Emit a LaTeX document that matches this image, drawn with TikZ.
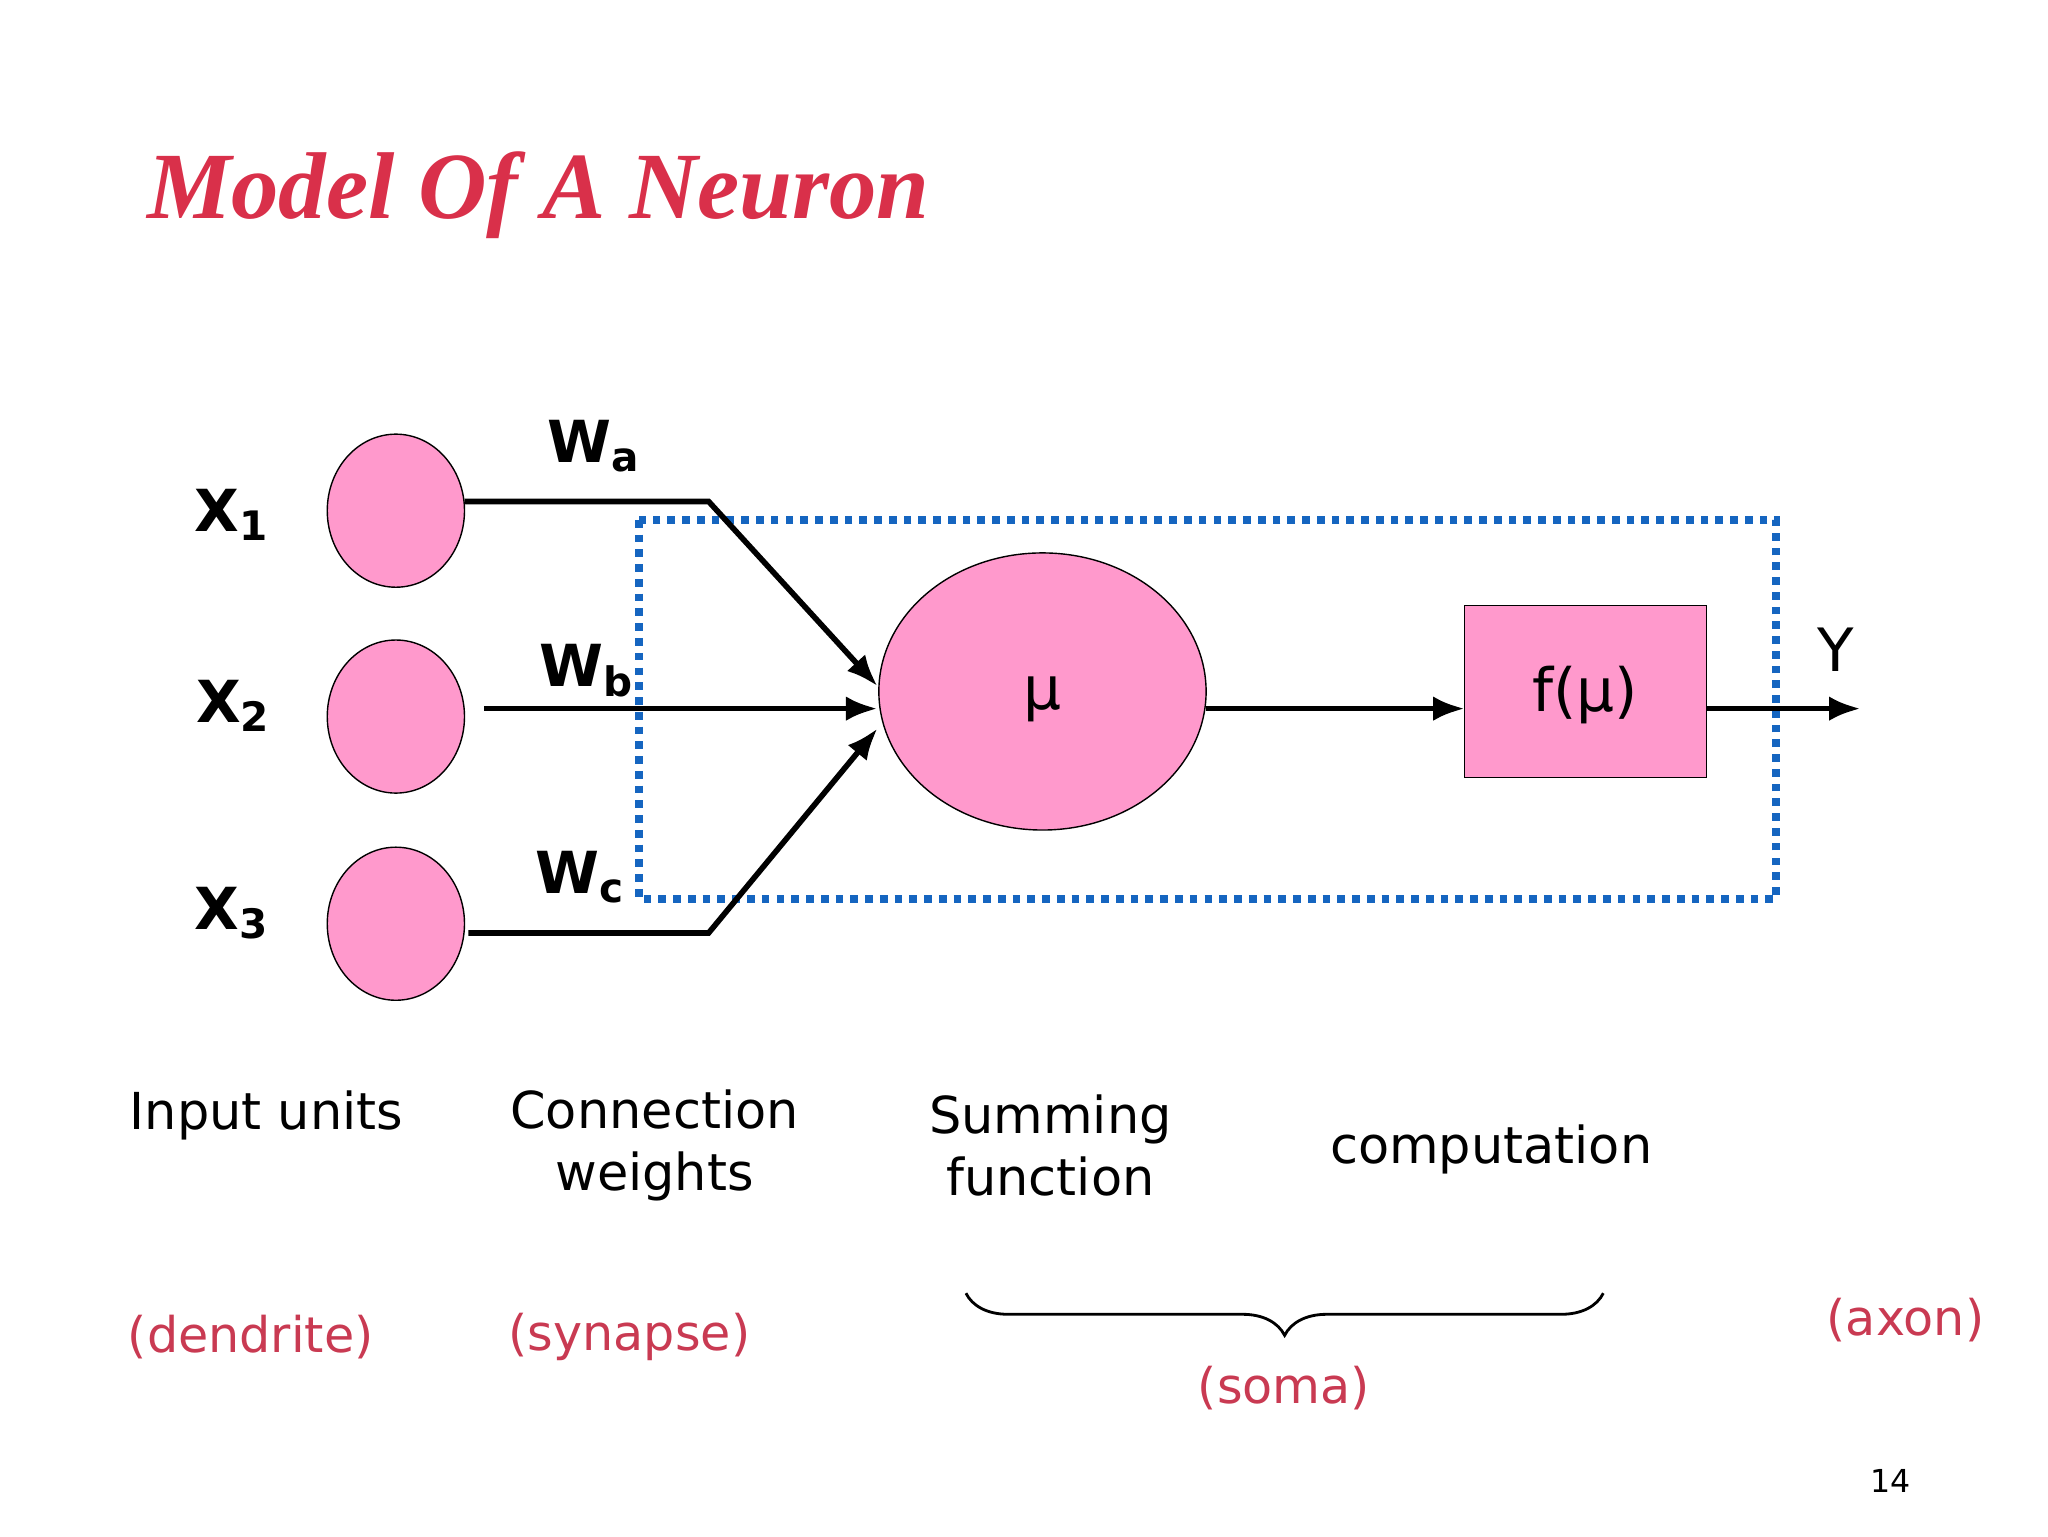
\documentclass[tikz,border=0pt]{standalone}
\usepackage{fontspec}
\setmainfont{DejaVu Sans}
\newfontfamily\titlefont{Liberation Serif}
\usetikzlibrary{arrows.meta, decorations.pathreplacing}
\definecolor{pinkfill}{HTML}{FF99CC}
\definecolor{titlered}{HTML}{D9304A}
\definecolor{labred}{HTML}{C93A52}
\definecolor{boxblue}{HTML}{1565C0}
\begin{document}
\begin{tikzpicture}[x=0.013196cm, y=-0.013196cm,
    wire/.style={line width=1.6pt},
    arr/.style={wire, -{Latex[length=9pt,width=7pt]}},
    lbl/.style={font=\fontsize{14.5}{17.5}\selectfont, align=center},
    red/.style={font=\fontsize{14}{17}\selectfont, text=labred},
    var/.style={font=\fontsize{16.5}{20}\selectfont\bfseries}
  ]
  \useasboundingbox (0,0) rectangle (1552,1164);
  % title
  \node[font=\titlefont\fontsize{27}{32}\selectfont\bfseries\itshape, text=titlered, anchor=west] (title) at (102,148) {Model Of A Neuron};
  % inputs
  \foreach \n/\y in {1/387, 2/543, 3/700} {
    \draw[fill=pinkfill] (300,\y) ellipse [x radius=52, y radius=58];
  }
  \node[var] (l1) at (176,390) {X\textsubscript{1}};
  \node[var] (l2) at (177,535) {X\textsubscript{2}};
  \node[var] (l3) at (176,692) {X\textsubscript{3}};
  \node[var] (wa) at (450,338) {W\textsubscript{a}};
  \node[var] (wb) at (445,508) {W\textsubscript{b}};
  \node[var] (wc) at (440,665) {W\textsubscript{c}};
  % dotted box
  \draw[boxblue, line width=2.2pt, dotted] (484,394) rectangle (1346,681);
  % summing
  \draw[fill=pinkfill] (790,524) ellipse [x radius=124, y radius=105];
  \node[font=\fontsize{17}{20}\selectfont] (mu) at (790,530) {μ};
  \coordinate (s1) at (665,520);
  \coordinate (s2) at (665,537);
  \coordinate (s3) at (665,552);
  \coordinate (so) at (914,537);
  % activation
  \draw[fill=pinkfill] (1110,459) rectangle (1293,589);
  \node[font=\fontsize{17}{20}\selectfont] (f) at (1201,527) {f(μ)};
  \coordinate (fi) at (1110,537);
  \coordinate (fo) at (1293,537);
  \coordinate (out) at (1410,537);
  \node[font=\fontsize{17}{20}\selectfont] (y) at (1391,492) {Y};
  % connectors
  \coordinate (a0) at (352,380); \coordinate (a1) at (537,380);
  \coordinate (b0) at (367,537);
  \coordinate (c0) at (355,707); \coordinate (c1) at (537,707);
  \draw[arr] (a0) -- (a1) -- (s1);
  \draw[arr] (b0) -- (s2);
  \draw[arr] (c0) -- (c1) -- (s3);
  \draw[arr] (so) -- (fi);
  \draw[arr] (fo) -- (out);
  % labels
  \node[lbl] (t1) at (202,845) {Input units};
  \node[lbl] (t2) at (496,868) {Connection\\weights};
  \node[lbl] (t3) at (796,868) {Summing\\function};
  \node[lbl] (t4) at (1130,871) {computation};
  \node[red] (r1) at (190,1013) {(dendrite)};
  \node[red] (r2) at (477,1013) {(synapse)};
  \node[red] (r3) at (973,1052) {(soma)};
  \node[red] (r4) at (1444,1000) {(axon)};
  \coordinate (bl) at (732,980); \coordinate (br) at (1215,980);
  \draw[decorate, decoration={brace, mirror, amplitude=12pt}, line width=0.8pt] (bl) -- (br);
  \node[font=\fontsize{9}{10}\selectfont] (pg) at (1433,1122) {14};
\end{tikzpicture}
\end{document}
